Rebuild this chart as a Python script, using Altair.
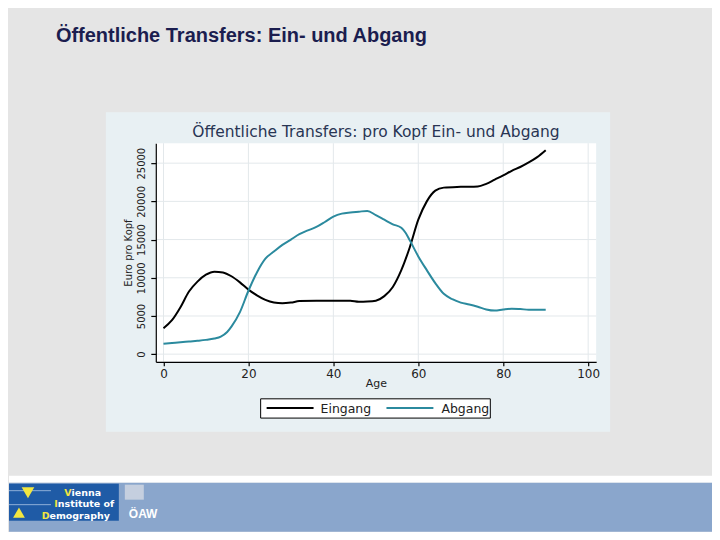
import altair as alt
import pandas as pd

# ---------------- texts ----------------
slide_title = "Öffentliche Transfers: Ein- und Abgang"
chart_title = "Öffentliche Transfers: pro Kopf Ein- und Abgang"
x_title = "Age"
y_title = "Euro pro Kopf"
series_names = ["Eingang", "Abgang"]
series_colors = ["#000000", "#2b8a9e"]
x_ticks = [0, 20, 40, 60, 80, 100]
y_ticks = [0, 5000, 10000, 15000, 20000, 25000]
logo_lines = ["Vienna", "Institute of", "Demography"]
oaw_text = "ÖAW"

# ---------------- data ----------------
eingang_age = [0, 2, 4, 6, 8, 10, 12, 14, 16, 18, 20, 22, 24, 26, 28, 30, 32, 36, 40,
               44, 46, 48, 50, 52, 54, 56, 58, 60, 62, 64, 66, 70, 74, 76, 78, 80,
               82, 84, 86, 88, 90]
eingang_val = [3400, 4450, 6150, 8200, 9500, 10400, 10800, 10700, 10200, 9400, 8450,
               7700, 7100, 6750, 6650, 6750, 6950, 7000, 7000, 6980, 6850, 6880, 7000,
               7600, 8800, 11000, 14000, 17600, 20000, 21400, 21800, 21900, 21950,
               22300, 22850, 23400, 24000, 24500, 25100, 25800, 26700]

abgang_age = [0, 2, 4, 6, 8, 10, 12, 13.5, 15, 16, 18, 20, 22, 24, 26, 28, 30, 32, 34,
              36, 38, 40, 42, 44, 46, 48, 50, 52, 54, 56, 57, 58, 60, 62, 64, 66, 68,
              70, 72, 74, 76, 78, 80, 82, 84, 86, 88, 90]
abgang_val = [1350, 1450, 1560, 1650, 1750, 1870, 2050, 2300, 2900, 3600, 5500, 8300,
              10700, 12500, 13430, 14300, 15000, 15700, 16200, 16650, 17300, 18000,
              18400, 18550, 18650, 18750, 18200, 17600, 17000, 16550, 15900, 14900,
              12800, 11000, 9300, 7900, 7200, 6750, 6500, 6200, 5850, 5700, 5850,
              5950, 5900, 5820, 5800, 5800]

df = pd.concat([
    pd.DataFrame({"Age": eingang_age, "Wert": eingang_val, "Serie": series_names[0]}),
    pd.DataFrame({"Age": abgang_age, "Wert": abgang_val, "Serie": series_names[1]}),
])

W, H = 441, 219
FONT = "DejaVu Sans"
one = alt.Data(values=[{"k": 1}])

xs = alt.Scale(domain=[-1.81, 101.88], nice=False, zero=False)
ys = alt.Scale(domain=[-1008, 27618], nice=False, zero=False)

x_axis = alt.Axis(values=x_ticks, grid=False, title=x_title, domainColor="#000",
                  domainWidth=1.2, tickColor="#000", tickWidth=1.2, tickSize=4,
                  labelFont=FONT, labelFontSize=12, labelColor="#222", labelPadding=3,
                  titleFont=FONT, titleFontSize=11, titleFontWeight="normal",
                  titleColor="#222", titlePadding=-2, zindex=1)
y_axis = alt.Axis(values=y_ticks, grid=False, title=y_title, format="d",
                  domainColor="#000", domainWidth=1.2, tickColor="#000", tickWidth=1.2,
                  tickSize=5, labelAngle=-90, labelAlign="center",
                  labelBaseline="alphabetic", labelFont=FONT, labelFontSize=10,
                  labelColor="#222", labelPadding=6, titleFont=FONT, titleFontSize=10,
                  titleFontWeight="normal", titleColor="#222", titlePadding=3, zindex=1)


def box(x1, x2, y1, y2, fill, stroke=None, sw=0):
    kw = dict(fill=fill)
    if stroke:
        kw.update(stroke=stroke, strokeWidth=sw)
    return alt.Chart(one).mark_rect(**kw).encode(
        x=alt.value(x1), x2=alt.value(x2), y=alt.value(y1), y2=alt.value(y2))


def label(txt, x, y, size, color, align="left", weight="normal", font=FONT):
    return alt.Chart(one).mark_text(
        text=txt, align=align, baseline="alphabetic", fontSize=size, color=color,
        fontWeight=weight, font=font).encode(x=alt.value(x), y=alt.value(y))


L, R, T, B = -147, 557, -135, 389   # slide extent (page = 720x540 incl. 8px margins)

layers = []
# slide background, strip, banner
layers.append(box(L, R, T, B, "#e5e5e5"))
layers.append(box(L, R, 333, 340, "#ffffff"))
layers.append(box(L, R, 340, B, "#8aa6cc"))
# logo
layers.append(box(L, -37, 341, 378, "#1f5ba6"))
for yy in [348, 362]:
    layers.append(alt.Chart(one).mark_rule(stroke="#8fb0d8", strokeWidth=1).encode(
        x=alt.value(L), x2=alt.value(-105), y=alt.value(yy)))
layers.append(alt.Chart(one).mark_point(shape="triangle-down", filled=True, size=160,
                                        color="#f2e640", opacity=1).encode(
    x=alt.value(-128), y=alt.value(350)))
layers.append(alt.Chart(one).mark_point(shape="triangle-up", filled=True, size=140,
                                        color="#f2e640", opacity=1).encode(
    x=alt.value(-137), y=alt.value(370)))
logo_pos = [(-91.7, 353.7), (-101.7, 364.7), (-114.3, 376)]
initial_w = [7.4, 3.6, 7.9]
for txt, (lx, ly), iw in zip(logo_lines, logo_pos, initial_w):
    layers.append(label(txt[0], lx, ly, 9.5, "#f2e640", weight="bold"))
    layers.append(label(txt[1:], lx + iw, ly, 9.5, "#ffffff", weight="bold"))
layers.append(box(-31, -12, 342, 357, "#c5cfdf"))
layers.append(label(oaw_text, -27, 375, 12, "#ffffff", weight="bold",
                    font="Liberation Sans"))

# chart panel and plot area
layers.append(box(-50, 455, -31, 289, "#e8f0f3"))
layers.append(box(0, W, 0, H, "#ffffff"))

# grid lines
layers.append(alt.Chart(pd.DataFrame({"Age": x_ticks})).mark_rule(
    color="#e3e8eb", strokeWidth=1).encode(x=alt.X("Age:Q", scale=xs, axis=x_axis)))
layers.append(alt.Chart(pd.DataFrame({"Wert": y_ticks})).mark_rule(
    color="#e3e8eb", strokeWidth=1).encode(y=alt.Y("Wert:Q", scale=ys, axis=y_axis)))

# data lines
layers.append(alt.Chart(df).mark_line(strokeWidth=2, interpolate="monotone").encode(
    x=alt.X("Age:Q", scale=xs, axis=x_axis),
    y=alt.Y("Wert:Q", scale=ys, axis=y_axis),
    color=alt.Color("Serie:N", scale=alt.Scale(domain=series_names,
                                               range=series_colors), legend=None),
    detail="Serie:N",
))

# chart title
layers.append(label(chart_title, 220.5, -5.7, 15.5, "#283553", align="center"))

# legend
layers.append(box(105, 335, 256, 275.3, "#ffffff", stroke="#000000", sw=1))
leg_line_x = [(111, 158), (231, 278)]
leg_text_x = [165, 286]
for name, col, (a, b), tx in zip(series_names, series_colors, leg_line_x, leg_text_x):
    layers.append(alt.Chart(one).mark_rule(stroke=col, strokeWidth=2).encode(
        x=alt.value(a), x2=alt.value(b), y=alt.value(265.3)))
    layers.append(label(name, tx, 270, 12.5, "#222"))

# slide title
layers.append(label(slide_title, -100, -101.3, 20, "#1b1d4f", weight="bold",
                    font="Liberation Sans"))

chart = alt.layer(*layers).properties(
    width=W, height=H, padding=0, background="#e5e5e5"
).configure_view(stroke=None)

chart.save("out.html", embed_options={"renderer": "svg", "actions": False})
